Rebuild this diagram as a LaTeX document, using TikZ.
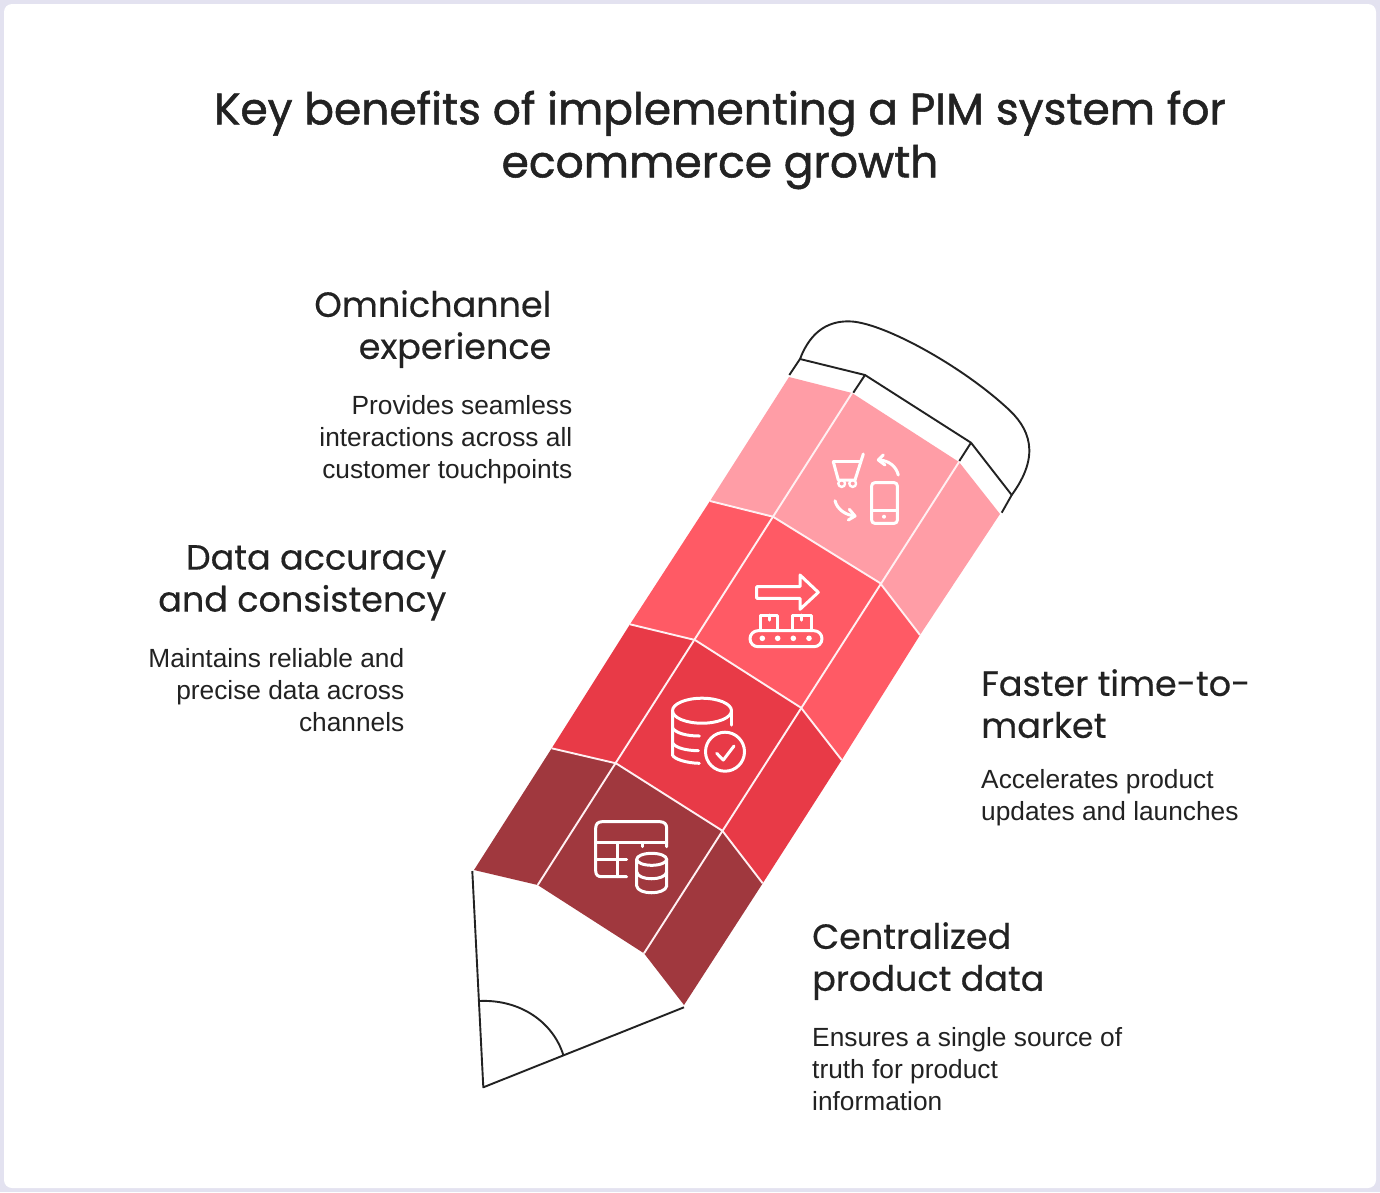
\documentclass[tikz,border=0pt]{standalone}
\usepackage{fontspec}
\setmainfont{Liberation Sans}
\newfontfamily\headfont[FakeBold=0.4]{Poppins}
\newfontfamily\titlefont[FakeBold=1.2]{Poppins}
\usetikzlibrary{positioning}
\definecolor{framecol}{HTML}{E3E2F0}
\definecolor{inkcol}{HTML}{222222}
\definecolor{pinkcol}{HTML}{FF9DA6}
\definecolor{redcol}{HTML}{FF5A65}
\definecolor{crimsoncol}{HTML}{E83A47}
\definecolor{darkcol}{HTML}{A0383E}
\tikzset{
  outline/.style={draw=inkcol,line width=1.9pt,line join=round},
  seam/.style={draw=white!85!pinkcol,line width=1.9pt},
  icon/.style={draw=white,line width=3pt,line join=round,line cap=round},
  titletext/.style={font=\titlefont\fontsize{44}{53}\selectfont,text=inkcol,align=center},
  headright/.style={font=\headfont\fontsize{35}{42}\selectfont,text=inkcol,align=left,anchor=north west,inner sep=0pt},
  headleft/.style={font=\headfont\fontsize{35}{42}\selectfont,text=inkcol,align=right,anchor=north east,inner sep=0pt},
  bodyright/.style={font=\fontsize{26.3}{32}\selectfont,text=inkcol,align=left,anchor=north west,inner sep=0pt},
  bodyleft/.style={font=\fontsize{26.3}{32}\selectfont,text=inkcol,align=right,anchor=north east,inner sep=0pt}
}
\begin{document}
\begin{tikzpicture}[x=1pt,y=-1pt]
    \useasboundingbox (0,0) rectangle (1380,1192);
    \fill[framecol] (0,0) rectangle (1380,1192);
    \fill[white,rounded corners=8pt] (4,4) rectangle (1376,1188);

    \node[titletext] (title) at (720,140) {Key benefits of implementing a PIM system for\\ecommerce growth};

    \draw[outline] (789.3,375) -- (800,359) -- (865,375) -- (853.3,392.7);
    \draw[outline] (865,375) -- (971,442.7) -- (959.3,461);
    \draw[outline] (971,442.7) -- (1011.7,495) -- (1001.7,512.7);
    \draw[outline] (800,359) .. controls (811,330) and (830,320) .. (852,321.5)
      .. controls (885,324) and (960,365) .. (1006,407)
      .. controls (1030,428) and (1041,455) .. (1011.7,495);

    \fill[pinkcol] (789,377) -- (852,393) -- (959,462) -- (1000,514) -- (920,635) -- (880,583) -- (773,516.7) -- (710,501) -- cycle;
    \fill[redcol] (710,501) -- (773,516.7) -- (880,583) -- (920,635) -- (841.7,760) -- (801,707.7) -- (695,640) -- (630,624.3) -- cycle;
    \fill[crimsoncol] (630,624.3) -- (695,640) -- (801,707.7) -- (841.7,760) -- (762.7,883.3) -- (722.3,830.7) -- (616,763.3) -- (551.7,748.3) -- cycle;
    \fill[darkcol] (551.7,748.3) -- (616,763.3) -- (722.3,830.7) -- (762.7,883.3) -- (684,1005) -- (644,953.3) -- (537.7,885) -- (474,870) -- cycle;

    \draw[seam] (710,501) -- (773,516.7) -- (880,583) -- (920,635);
    \draw[seam] (630,624.3) -- (695,640) -- (801,707.7) -- (841.7,760);
    \draw[seam] (551.7,748.3) -- (616,763.3) -- (722.3,830.7) -- (762.7,883.3);
    \draw[seam] (852,393) -- (537.7,885);
    \draw[seam] (959,462) -- (644,953.3);

    \draw[outline] (684,1007.3) -- (483.3,1087.3) -- (472.3,871);
    \draw[outline] (479,1001) .. controls (520,999) and (553,1022) .. (563.3,1055);

    \draw[icon] (833.3,461.7) -- (860.5,461.7);
    \draw[icon] (833.3,461.7) -- (838.3,480) -- (855,480) -- (863.3,454);
    \draw[icon,line width=2.4pt] (841.7,483.5) circle (3.4);
    \draw[icon,line width=2.4pt] (852.7,483.5) circle (3.4);
    \draw[icon] (898.3,475) .. controls (896,466) and (889,461) .. (880,460);
    \draw[icon] (883.3,455) -- (878.3,460) -- (885,465);
    \draw[icon,rounded corners=3pt] (871.7,482.7) rectangle (897.3,523.3);
    \draw[icon] (871.7,510.7) -- (897.3,510.7);
    \fill[white] (884,516.7) circle (2);
    \draw[icon] (835,500.7) .. controls (837,509) and (845,515) .. (855,516);
    \draw[icon] (849.3,509.3) -- (855,516) -- (848.3,520);

    \draw[icon] (756.7,586.7) -- (800,586.7) -- (800,575) -- (818.3,592.3) -- (800,609.3) -- (800,598.3) -- (756.7,598.3) -- cycle;
    \draw[icon,rounded corners=8pt] (750,630.7) rectangle (822,646.7);
    \draw[icon] (760.7,630.7) -- (760.7,615) -- (777.3,615) -- (777.3,630.7);
    \draw[icon] (792.7,630.7) -- (792.7,615) -- (811.7,615) -- (811.7,630.7);
    \draw[icon] (769,615) -- (769,620);
    \draw[icon] (801.7,615) -- (801.7,620);
    \fill[white] (762.3,638.3) circle (2.8);
    \fill[white] (777.7,638.3) circle (2.8);
    \fill[white] (793.3,638.3) circle (2.8);
    \fill[white] (809,638.3) circle (2.8);

    \draw[icon] (702,710.7) ellipse (29.5 and 12.5);
    \draw[icon] (672.5,711) -- (672.5,755) .. controls (674,759) and (686,763) .. (699.3,763.3);
    \draw[icon] (672.5,728) .. controls (676,733) and (686,736) .. (699.3,736);
    \draw[icon] (672.5,743) .. controls (676,748) and (686,750.5) .. (698.3,750.7);
    \draw[icon] (731.5,711) -- (731.5,725);
    \draw[icon] (725,751.7) circle (19.5);
    \draw[icon] (716.7,753.3) -- (723.3,760) -- (734,746);

    \draw[icon] (666.7,846.7) -- (666.7,828) .. controls (666.7,824) and (664,821.7) .. (660,821.7) -- (602,821.7) .. controls (598,821.7) and (595.7,824) .. (595.7,828) -- (595.7,871) .. controls (595.7,875) and (598,876.7) .. (602,876.7) -- (626.7,876.7);
    \draw[icon] (595.7,842.7) -- (666.7,842.7);
    \draw[icon] (617.7,842.7) -- (617.7,876.7);
    \draw[icon] (595.7,859.3) -- (626.7,859.3);
    \draw[icon] (642.7,842.7) -- (642.7,846.7);
    \draw[icon] (651.7,859.3) ellipse (15 and 6);
    \draw[icon] (636.7,859.3) -- (636.7,886) .. controls (638,895) and (665,895) .. (666.7,886) -- (666.7,859.3);
    \draw[icon] (636.7,872) .. controls (638,881) and (665,881) .. (666.7,872);

    \node[headleft] (omnihead) at (551.5,290) {Omnichannel\\experience};
    \node[bodyleft] (omnibody) at (572.5,395) {Provides seamless\\interactions across all\\customer touchpoints};
    \node[headleft] (datahead) at (446.5,545) {Data accuracy\\and consistency};
    \node[bodyleft] (databody) at (404.5,648) {Maintains reliable and\\precise data across\\channels};
    \node[headright] (fasthead) at (981,669) {Faster time-to-\\market};
    \node[bodyright] (fastbody) at (981,769) {Accelerates product\\updates and launches};
    \node[headright] (centralhead) at (812,922) {Centralized\\product data};
    \node[bodyright] (centralbody) at (812,1027) {Ensures a single source of\\truth for product\\information};
  \end{tikzpicture}
\end{document}
